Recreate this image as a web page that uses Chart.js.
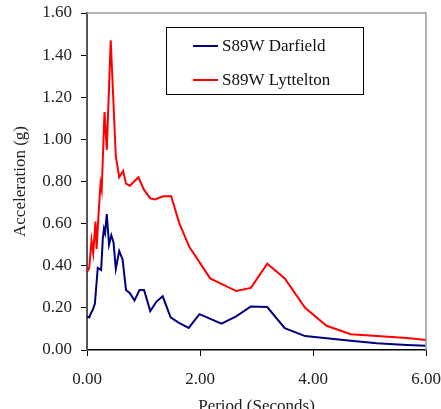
<!DOCTYPE html>
<html>
<head>
<meta charset="utf-8">
<script src="https://cdn.jsdelivr.net/npm/chart.js@4.4.1/dist/chart.umd.min.js"></script>
<style>
  html, body { margin: 0; padding: 0; overflow: hidden; background: #fff; }
  canvas { display: block; }
</style>
</head>
<body>
<canvas id="chart" width="441" height="425"></canvas>
<script>
// S89W Darfield spectrum
const darfieldPeriod = [0.00, 0.04, 0.07, 0.10, 0.14, 0.19, 0.25, 0.28, 0.30, 0.32, 0.35, 0.39, 0.43, 0.47, 0.51, 0.57, 0.63, 0.69, 0.76, 0.84, 0.93, 1.01, 1.12, 1.23, 1.34, 1.48, 1.62, 1.80, 1.99, 2.38, 2.64, 2.90, 3.19, 3.50, 3.86, 4.24, 4.67, 5.13, 5.66, 6.00];
const darfieldAccel = [0.16, 0.155, 0.175, 0.19, 0.22, 0.39, 0.38, 0.53, 0.575, 0.555, 0.645, 0.50, 0.545, 0.51, 0.385, 0.47, 0.43, 0.285, 0.27, 0.235, 0.285, 0.285, 0.185, 0.23, 0.255, 0.155, 0.13, 0.105, 0.17, 0.125, 0.16, 0.207, 0.204, 0.104, 0.066, 0.056, 0.044, 0.032, 0.024, 0.02];

// S89W Lyttelton spectrum
const lytteltonPeriod = [0.00, 0.04, 0.08, 0.11, 0.15, 0.17, 0.21, 0.24, 0.26, 0.31, 0.35, 0.42, 0.51, 0.57, 0.64, 0.69, 0.76, 0.91, 1.01, 1.12, 1.20, 1.35, 1.49, 1.63, 1.81, 2.18, 2.64, 2.90, 3.19, 3.50, 3.86, 4.24, 4.67, 5.66, 6.00];
const lytteltonAccel = [0.37, 0.39, 0.52, 0.46, 0.61, 0.48, 0.67, 0.79, 0.76, 1.13, 0.95, 1.47, 0.92, 0.82, 0.85, 0.79, 0.78, 0.82, 0.76, 0.72, 0.715, 0.73, 0.73, 0.605, 0.49, 0.34, 0.28, 0.295, 0.41, 0.34, 0.20, 0.115, 0.075, 0.057, 0.048];

const seriesLabels = ['S89W Darfield', 'S89W Lyttelton'];
const seriesColors = ['#000080', '#ff0000'];

const serif = "'Liberation Serif', 'DejaVu Serif', serif";

const toPoints = (xs, ys) => xs.map((x, i) => ({ x: x, y: ys[i] }));

// frame on top and right of the plot area
const framePlugin = {
    id: 'frame',
    afterDraw(chart) {
        const { ctx, chartArea: a } = chart;
        ctx.save();
        ctx.strokeStyle = '#999';
        ctx.lineWidth = 1.5;
        ctx.beginPath();
        ctx.moveTo(a.left, a.top);
        ctx.lineTo(a.right, a.top);
        ctx.lineTo(a.right, a.bottom);
        ctx.stroke();
        ctx.restore();
    }
};

// boxed legend inside the plot
const boxLegend = {
    id: 'boxLegend',
    afterDraw(chart) {
        const ctx = chart.ctx;
        ctx.save();
        ctx.strokeStyle = '#000';
        ctx.lineWidth = 1;
        ctx.strokeRect(166.5, 27.5, 197, 67);
        ctx.font = '17px ' + serif;
        ctx.textBaseline = 'middle';
        ctx.fillStyle = '#111';
        chart.data.datasets.forEach((ds, i) => {
            const y = 46 + i * 34;
            ctx.strokeStyle = ds.borderColor;
            ctx.lineWidth = 2;
            ctx.beginPath();
            ctx.moveTo(193, y);
            ctx.lineTo(218, y);
            ctx.stroke();
            ctx.fillText(ds.label, 222, y + 1);
        });
        ctx.restore();
    }
};

document.addEventListener('DOMContentLoaded', () => {
    const ctx = document.getElementById('chart').getContext('2d');
    new Chart(ctx, {
        type: 'line',
        data: {
            datasets: [{
                label: seriesLabels[0],
                data: toPoints(darfieldPeriod, darfieldAccel),
                borderColor: seriesColors[0],
                borderWidth: 2,
                pointRadius: 0,
                tension: 0,
                fill: false
            }, {
                label: seriesLabels[1],
                data: toPoints(lytteltonPeriod, lytteltonAccel),
                borderColor: seriesColors[1],
                borderWidth: 2,
                pointRadius: 0,
                tension: 0,
                fill: false
            }]
        },
        options: {
            responsive: false,
            animation: false,
            layout: { padding: { left: 0, top: 13, right: 15, bottom: 8 } },
            plugins: {
                legend: { display: false },
                tooltip: { enabled: false }
            },
            scales: {
                x: {
                    type: 'linear',
                    min: 0,
                    max: 6,
                    afterFit(scale) {
                        scale.height = 67;
                        scale.paddingLeft = 0;
                        scale.paddingRight = 0;
                    },
                    ticks: {
                        stepSize: 2,
                        callback: v => v.toFixed(2),
                        color: '#222',
                        font: { family: serif, size: 17 },
                        padding: 13,
                        maxRotation: 0
                    },
                    grid: {
                        drawOnChartArea: false,
                        tickLength: 6,
                        tickColor: '#000'
                    },
                    border: { color: '#000', width: 1.5 },
                    title: {
                        display: true,
                        text: 'Period (Seconds)',
                        color: '#222',
                        font: { family: serif, size: 17 },
                        padding: 0
                    }
                },
                y: {
                    min: 0,
                    max: 1.6,
                    afterFit(scale) {
                        scale.width = 87;
                        scale.paddingTop = 0;
                        scale.paddingBottom = 0;
                    },
                    ticks: {
                        stepSize: 0.2,
                        callback: v => v.toFixed(2),
                        color: '#222',
                        font: { family: serif, size: 17 },
                        padding: 9
                    },
                    grid: {
                        drawOnChartArea: false,
                        tickLength: 6,
                        tickColor: '#000'
                    },
                    border: { color: '#555', width: 2 },
                    title: {
                        display: true,
                        text: 'Acceleration (g)',
                        color: '#222',
                        font: { family: serif, size: 17 },
                        padding: { top: 10, bottom: 0 }
                    }
                }
            }
        },
        plugins: [framePlugin, boxLegend]
    });
});
</script>
</body>
</html>
